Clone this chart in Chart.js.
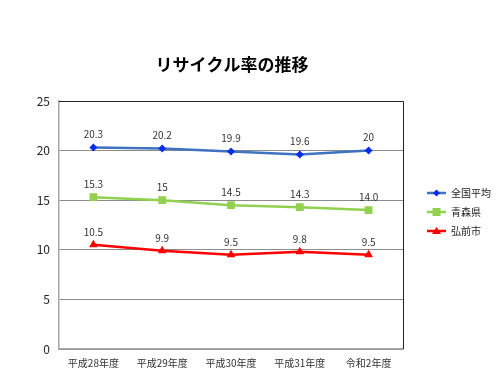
<!DOCTYPE html>
<html>
<head>
<meta charset="utf-8">
<script src="https://cdn.jsdelivr.net/npm/chart.js@4/dist/chart.umd.min.js"></script>
<style>
  html, body { margin: 0; padding: 0; background: #fff; }
  #wrap { width: 500px; height: 389px; position: relative; }
</style>
</head>
<body>
<div id="wrap"><canvas id="recycleChart" width="500" height="389"></canvas></div>
<script>
const chartTitle = 'リサイクル率の推移';
const years = ['平成28年度', '平成29年度', '平成30年度', '平成31年度', '令和2年度'];
const nationalAvg = [20.3, 20.2, 19.9, 19.6, 20];
const aomoriPref = [15.3, 15, 14.5, 14.3, 14.0];
const hirosakiCity = [10.5, 9.9, 9.5, 9.8, 9.5];
// labels as printed on the picture (14.0 keeps its decimal)
const nationalLabels = ['20.3', '20.2', '19.9', '19.6', '20'];
const aomoriLabels = ['15.3', '15', '14.5', '14.3', '14.0'];
const hirosakiLabels = ['10.5', '9.9', '9.5', '9.8', '9.5'];
const yTicks = [0, 5, 10, 15, 20, 25];

const fontFamily = '"Noto Sans CJK JP", "Noto Sans", sans-serif';

const extrasPlugin = {
  id: 'extras',
  afterDraw(chart) {
    const ctx = chart.ctx;
    const area = chart.chartArea;
    ctx.save();

    // plot frame: top and right edges darker
    ctx.strokeStyle = '#222';
    ctx.lineWidth = 1;
    ctx.beginPath();
    ctx.moveTo(area.left, area.top + 0.5);
    ctx.lineTo(area.right + 0.5, area.top + 0.5);
    ctx.lineTo(area.right + 0.5, area.bottom);
    ctx.stroke();

    // title
    ctx.fillStyle = '#000';
    ctx.font = 'bold 17px ' + fontFamily;
    ctx.textAlign = 'center';
    ctx.textBaseline = 'middle';
    ctx.fillText(chartTitle, 232, 65);

    // point value labels
    ctx.font = '10px ' + fontFamily;
    ctx.fillStyle = '#333';
    ctx.textBaseline = 'bottom';
    chart.data.datasets.forEach((ds, i) => {
      const meta = chart.getDatasetMeta(i);
      meta.data.forEach((pt, j) => {
        ctx.fillText(ds.valueLabels[j], pt.x, pt.y - 8);
      });
    });

    // legend
    ctx.textAlign = 'left';
    ctx.textBaseline = 'middle';
    ctx.font = '10px ' + fontFamily;
    chart.data.datasets.forEach((ds, i) => {
      const y = 193 + i * 19;
      const x0 = 427, x1 = 446;
      ctx.strokeStyle = ds.borderColor;
      ctx.lineWidth = 2.5;
      ctx.beginPath();
      ctx.moveTo(x0, y);
      ctx.lineTo(x1, y);
      ctx.stroke();
      const cx = (x0 + x1) / 2;
      ctx.fillStyle = ds.pointBackgroundColor;
      ctx.beginPath();
      if (ds.pointStyle === 'rectRot') {
        ctx.moveTo(cx, y - 3.5); ctx.lineTo(cx + 3.5, y); ctx.lineTo(cx, y + 3.5); ctx.lineTo(cx - 3.5, y);
      } else if (ds.pointStyle === 'rect') {
        ctx.rect(cx - 4, y - 4, 8, 8);
      } else {
        ctx.moveTo(cx, y - 4); ctx.lineTo(cx + 4.5, y + 3); ctx.lineTo(cx - 4.5, y + 3);
      }
      ctx.closePath();
      ctx.fill();
      ctx.fillStyle = '#222';
      ctx.fillText(ds.label, 451, y);
    });
    ctx.restore();
  }
};

new Chart(document.getElementById('recycleChart'), {
  type: 'line',
  data: {
    labels: years,
    datasets: [
      {
        label: '全国平均',
        data: nationalAvg,
        valueLabels: nationalLabels,
        borderColor: '#3f72c0',
        borderWidth: 2.5,
        pointStyle: 'rectRot',
        pointRadius: 4,
        pointBackgroundColor: '#0a2ee8',
        pointBorderColor: '#0a2ee8',
        pointBorderWidth: 0
      },
      {
        label: '青森県',
        data: aomoriPref,
        valueLabels: aomoriLabels,
        borderColor: '#92d050',
        borderWidth: 2.5,
        pointStyle: 'rect',
        pointRadius: 5.5,
        pointBackgroundColor: '#92d050',
        pointBorderColor: '#92d050',
        pointBorderWidth: 0
      },
      {
        label: '弘前市',
        data: hirosakiCity,
        valueLabels: hirosakiLabels,
        borderColor: '#ff0000',
        borderWidth: 2.5,
        pointStyle: 'triangle',
        pointRadius: 5,
        pointBackgroundColor: '#ff0000',
        pointBorderColor: '#ff0000',
        pointBorderWidth: 0
      }
    ]
  },
  options: {
    responsive: false,
    animation: false,
    layout: { padding: { left: 0, top: 101, right: 97, bottom: 0 } },
    plugins: {
      legend: { display: false },
      title: { display: false },
      tooltip: { enabled: false }
    },
    scales: {
      x: {
        offset: true,
        afterFit(scale) { scale.height = 40; },
        grid: { display: false, drawTicks: false },
        border: { color: '#a6a6a6', width: 1.5 },
        ticks: {
          color: '#333',
          font: { family: fontFamily, size: 10 },
          padding: 8,
          maxRotation: 0
        }
      },
      y: {
        min: 0,
        max: 25,
        afterFit(scale) { scale.width = 59; },
        afterBuildTicks(scale) { scale.ticks = yTicks.map(v => ({ value: v })); },
        grid: { color: '#8c8c8c', lineWidth: 1, drawTicks: false },
        border: { color: '#a6a6a6', width: 1.5 },
        ticks: {
          color: '#222',
          font: { family: fontFamily, size: 12 },
          padding: 9
        }
      }
    }
  },
  plugins: [extrasPlugin]
});
</script>
</body>
</html>
